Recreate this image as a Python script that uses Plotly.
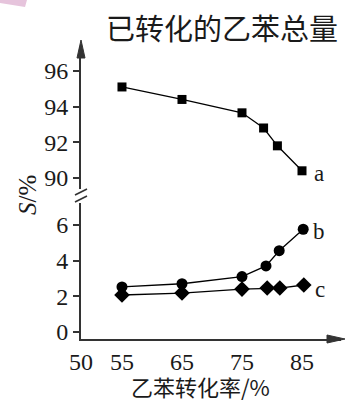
import plotly.graph_objects as go

# data
xa = [55, 65, 75, 78.6, 80.9, 85]
ya = [95.1, 94.4, 93.65, 92.8, 91.8, 90.4]
xb = [55, 65, 75, 79, 81.2, 85.2]
yb = [2.52, 2.7, 3.1, 3.7, 4.55, 5.75]
xc = [55, 65, 75, 79.2, 81.3, 85.3]
yc = [2.07, 2.18, 2.4, 2.46, 2.46, 2.63]
xtick_vals = [48.17, 55, 65, 75, 85]
xtick_text = ["50", "55", "65", "75", "85"]
y_low_ticks = [0, 2, 4, 6]
y_up_ticks = [90, 92, 94, 96]

W, H = 345, 403
L, R, T, B = 81, 4, 47, 64
PW = W - L - R
PH = H - T - B

def px(x):
    return (x - L) / PW

def py(y):
    return (H - B - y) / PH

serif = "Liberation Serif, Times New Roman, serif"
cjk = "Noto Sans CJK SC, sans-serif"
line = dict(color="black", width=1.3)
txtcol = "#1a1a1a"

fig = go.Figure()
fig.add_trace(go.Scatter(x=xa, y=ya, yaxis="y2", mode="lines+markers", line=line,
                         marker=dict(symbol="square", size=9, color="black")))
fig.add_trace(go.Scatter(x=xb, y=yb, mode="lines+markers", line=line,
                         marker=dict(symbol="circle", size=11, color="black")))
fig.add_trace(go.Scatter(x=xc, y=yc, mode="lines+markers", line=line,
                         marker=dict(symbol="diamond", size=12, color="black")))

axcol = "#333333"
tickfont = dict(family=serif, size=24, color=txtcol)
fig.update_layout(
    width=W, height=H, showlegend=False,
    margin=dict(l=L, r=R, t=T, b=B),
    paper_bgcolor="white", plot_bgcolor="white",
    font=dict(family=serif, size=24, color=txtcol),
    xaxis=dict(range=[48.17, 91.5], tickvals=xtick_vals, ticktext=xtick_text,
               showline=True, linecolor=axcol, linewidth=2, showgrid=False,
               zeroline=False, ticks="", anchor="y", tickfont=tickfont,
               automargin=False),
    yaxis=dict(domain=[0, py(203)], range=[-0.392, 7.22], tickvals=y_low_ticks,
               showline=True, linecolor=axcol, linewidth=2, showgrid=False,
               zeroline=False, ticks="outside", ticklen=6, tickcolor=axcol,
               tickwidth=1.5, tickfont=tickfont, automargin=False),
    yaxis2=dict(domain=[py(189), 1], range=[89.38, 97.34], tickvals=y_up_ticks,
                showline=True, linecolor=axcol, linewidth=2, showgrid=False,
                zeroline=False, ticks="outside", ticklen=6, tickcolor=axcol,
                tickwidth=1.5, anchor="x", tickfont=tickfont, automargin=False),
)

shapes = []
# break marks
for yy in (192, 199):
    shapes.append(dict(type="line", xref="paper", yref="paper",
                       x0=px(75), y0=py(yy + 3), x1=px(87), y1=py(yy - 3),
                       line=dict(color=axcol, width=1.6)))
# arrows
shapes.append(dict(type="path", xref="paper", yref="paper",
                   path=f"M {px(77)} {py(58)} L {px(81)} {py(40)} L {px(85)} {py(58)} Z",
                   fillcolor=axcol, line=dict(color=axcol, width=1)))
shapes.append(dict(type="path", xref="paper", yref="paper",
                   path=f"M {px(327)} {py(335)} L {px(345)} {py(339)} L {px(327)} {py(343)} Z",
                   fillcolor=axcol, line=dict(color=axcol, width=1)))
# pink corner decoration
shapes.append(dict(type="path", xref="paper", yref="paper",
                   path=f"M {px(0)} {py(0)} L {px(27)} {py(0)} L {px(25)} {py(7)} L {px(0)} {py(3)} Z",
                   fillcolor="#e6c4dc", line=dict(width=0), layer="above"))
fig.update_layout(shapes=shapes)

lab = dict(family=serif, size=23, color=txtcol)
ann = [
    dict(x=px(340), y=py(27), xref="paper", yref="paper", text="已转化的乙苯总量",
         xanchor="right", yanchor="middle", showarrow=False,
         font=dict(family=cjk, size=29, color=txtcol)),
    dict(x=xa[-1], y=ya[-1], xref="x", yref="y2", text="a", showarrow=False,
         xanchor="center", yanchor="middle", xshift=17, yshift=-3, font=lab),
    dict(x=xb[-1], y=yb[-1], xref="x", yref="y", text="b", showarrow=False,
         xanchor="center", yanchor="middle", xshift=16, yshift=-2, font=lab),
    dict(x=xc[-1], y=yc[-1], xref="x", yref="y", text="c", showarrow=False,
         xanchor="center", yanchor="middle", xshift=16, yshift=-4, font=lab),
    dict(x=px(27), y=py(195), xref="paper", yref="paper", text="<i>S</i>/%",
         xanchor="center", yanchor="middle",
         textangle=-90, showarrow=False, font=dict(family=serif, size=25, color=txtcol)),
    dict(x=px(200), y=py(386), xref="paper", yref="paper", text="乙苯转化率/%",
         xanchor="center", yanchor="middle", showarrow=False,
         font=dict(family=cjk, size=22, color=txtcol)),
]
fig.update_layout(annotations=ann)

fig.write_html("out.html", config={"displayModeBar": False},
               post_script="document.body.style.margin='0';document.body.style.padding='0';")
